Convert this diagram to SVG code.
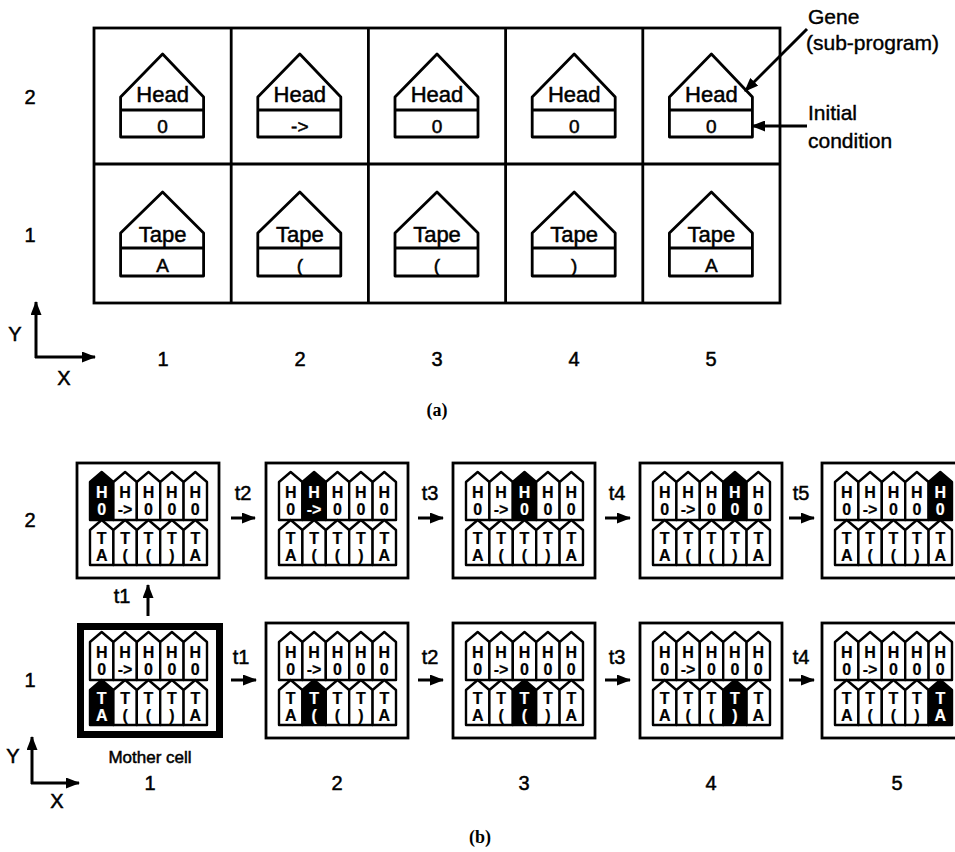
<svg xmlns="http://www.w3.org/2000/svg" width="955" height="852" viewBox="0 0 955 852">
<style>
.ln{fill:none;stroke:#000;stroke-width:2.8}
.big{fill:#fff;stroke:#000;stroke-width:2.8;stroke-linejoin:round}
.t{font-family:"Liberation Sans",Arial,sans-serif;fill:#000;stroke:#000;stroke-width:0.5;text-anchor:middle}
.lab{font-size:20px}
.g{font-size:22px}
.v{font-size:19px}
.m{font-size:16px;font-weight:bold;stroke-width:0.2}
.w{fill:#fff;stroke:#000;stroke-width:2.4;stroke-linejoin:round}
.k{fill:#000;stroke:#000;stroke-width:2.4;stroke-linejoin:round}
.wt{fill:#fff;stroke:#fff}
.cellbox{fill:#fff;stroke:#000;stroke-width:2.8}
.mother{fill:#fff;stroke:#000;stroke-width:7}
.cap{font-family:"Liberation Serif","Times New Roman",serif;font-weight:bold;font-size:18px;text-anchor:middle}
.ann{font-family:"Liberation Sans",Arial,sans-serif;font-size:21px;fill:#000;stroke:#000;stroke-width:0.4}
</style>
<defs>
<marker id="ah" viewBox="0 0 14 11" refX="13" refY="5.5" markerWidth="14" markerHeight="11" markerUnits="userSpaceOnUse" orient="auto">
<path d="M0,0 L14,5.5 L0,11 Z" fill="#000"/>
</marker>
<path id="hh" d="M0,57 V19 L11.7,9 L23.4,19 V57 Z"/>
<path id="th" d="M0,102 V67 L11.7,57 L23.4,67 V102 Z"/>
</defs>

<!-- ===== Part (a) ===== -->
<g id="grid-a">
<rect x="94" y="28" width="686" height="275" class="ln"/>
<line x1="94" y1="164" x2="780" y2="164" class="ln"/>
<line x1="231.2" y1="28" x2="231.2" y2="303" class="ln"/>
<line x1="368.4" y1="28" x2="368.4" y2="303" class="ln"/>
<line x1="505.6" y1="28" x2="505.6" y2="303" class="ln"/>
<line x1="642.8" y1="28" x2="642.8" y2="303" class="ln"/>
</g>

<g id="a-head1" transform="translate(162.6,0)">
<path class="big" d="M-42,137 V97 L0,54 L41,97 V137 Z"/><line class="ln" x1="-42" y1="110" x2="41" y2="110"/>
<text class="t g" x="0" y="102">Head</text><text class="t v" x="0" y="133">0</text></g>
<g id="a-head2" transform="translate(299.8,0)">
<path class="big" d="M-42,137 V97 L0,54 L41,97 V137 Z"/><line class="ln" x1="-42" y1="110" x2="41" y2="110"/>
<text class="t g" x="0" y="102">Head</text><text class="t v" x="0" y="133">-&gt;</text></g>
<g id="a-head3" transform="translate(437,0)">
<path class="big" d="M-42,137 V97 L0,54 L41,97 V137 Z"/><line class="ln" x1="-42" y1="110" x2="41" y2="110"/>
<text class="t g" x="0" y="102">Head</text><text class="t v" x="0" y="133">0</text></g>
<g id="a-head4" transform="translate(574.2,0)">
<path class="big" d="M-42,137 V97 L0,54 L41,97 V137 Z"/><line class="ln" x1="-42" y1="110" x2="41" y2="110"/>
<text class="t g" x="0" y="102">Head</text><text class="t v" x="0" y="133">0</text></g>
<g id="a-head5" transform="translate(711.4,0)">
<path class="big" d="M-42,137 V97 L0,54 L41,97 V137 Z"/><line class="ln" x1="-42" y1="110" x2="41" y2="110"/>
<text class="t g" x="0" y="102">Head</text><text class="t v" x="0" y="133">0</text></g>

<g id="a-tape1" transform="translate(162.6,0)">
<path class="big" d="M-42,276 V233 L0,192 L41,233 V276 Z"/><line class="ln" x1="-42" y1="248" x2="41" y2="248"/>
<text class="t g" x="0" y="242">Tape</text><text class="t v" x="0" y="272">A</text></g>
<g id="a-tape2" transform="translate(299.8,0)">
<path class="big" d="M-42,276 V233 L0,192 L41,233 V276 Z"/><line class="ln" x1="-42" y1="248" x2="41" y2="248"/>
<text class="t g" x="0" y="242">Tape</text><text class="t v" x="0" y="272">(</text></g>
<g id="a-tape3" transform="translate(437,0)">
<path class="big" d="M-42,276 V233 L0,192 L41,233 V276 Z"/><line class="ln" x1="-42" y1="248" x2="41" y2="248"/>
<text class="t g" x="0" y="242">Tape</text><text class="t v" x="0" y="272">(</text></g>
<g id="a-tape4" transform="translate(574.2,0)">
<path class="big" d="M-42,276 V233 L0,192 L41,233 V276 Z"/><line class="ln" x1="-42" y1="248" x2="41" y2="248"/>
<text class="t g" x="0" y="242">Tape</text><text class="t v" x="0" y="272">)</text></g>
<g id="a-tape5" transform="translate(711.4,0)">
<path class="big" d="M-42,276 V233 L0,192 L41,233 V276 Z"/><line class="ln" x1="-42" y1="248" x2="41" y2="248"/>
<text class="t g" x="0" y="242">Tape</text><text class="t v" x="0" y="272">A</text></g>

<g id="a-labels">
<text class="t lab" x="30" y="104">2</text>
<text class="t lab" x="30" y="242">1</text>
<text class="t lab" x="15" y="341">Y</text>
<text class="t lab" x="64" y="385">X</text>
<text class="t lab" x="163" y="366">1</text>
<text class="t lab" x="300" y="366">2</text>
<text class="t lab" x="437" y="366">3</text>
<text class="t lab" x="574" y="366">4</text>
<text class="t lab" x="711" y="366">5</text>
<text class="ann" x="808" y="24">Gene</text>
<text class="ann" x="806" y="50">(sub-program)</text>
<text class="ann" x="808" y="120">Initial</text>
<text class="ann" x="808" y="148">condition</text>
<text class="cap" x="437" y="416">(a)</text>
</g>

<!-- ===== Part (b) ===== -->
<g id="b-cell-2-1" transform="translate(77,463)">
<rect class="cellbox" x="0" y="0" width="142" height="115"/>
<use href="#hh" class="k" x="13"/><use href="#hh" class="w" x="36.4"/><use href="#hh" class="w" x="59.8"/><use href="#hh" class="w" x="83.2"/><use href="#hh" class="w" x="106.6"/>
<use href="#th" class="w" x="13"/><use href="#th" class="w" x="36.4"/><use href="#th" class="w" x="59.8"/><use href="#th" class="w" x="83.2"/><use href="#th" class="w" x="106.6"/>
<g class="t m"><text class="wt" x="24.7" y="35">H</text><text class="wt" x="24.7" y="52">0</text><text x="48.1" y="35">H</text><text x="48.1" y="52">-&gt;</text><text x="71.5" y="35">H</text><text x="71.5" y="52">0</text><text x="94.9" y="35">H</text><text x="94.9" y="52">0</text><text x="118.3" y="35">H</text><text x="118.3" y="52">0</text>
<text x="24.7" y="81">T</text><text x="24.7" y="98">A</text><text x="48.1" y="81">T</text><text x="48.1" y="98">(</text><text x="71.5" y="81">T</text><text x="71.5" y="98">(</text><text x="94.9" y="81">T</text><text x="94.9" y="98">)</text><text x="118.3" y="81">T</text><text x="118.3" y="98">A</text></g>
</g>

<g id="b-cell-2-2" transform="translate(266,463)">
<rect class="cellbox" x="0" y="0" width="142" height="115"/>
<use href="#hh" class="w" x="13"/><use href="#hh" class="k" x="36.4"/><use href="#hh" class="w" x="59.8"/><use href="#hh" class="w" x="83.2"/><use href="#hh" class="w" x="106.6"/>
<use href="#th" class="w" x="13"/><use href="#th" class="w" x="36.4"/><use href="#th" class="w" x="59.8"/><use href="#th" class="w" x="83.2"/><use href="#th" class="w" x="106.6"/>
<g class="t m"><text x="24.7" y="35">H</text><text x="24.7" y="52">0</text><text class="wt" x="48.1" y="35">H</text><text class="wt" x="48.1" y="52">-&gt;</text><text x="71.5" y="35">H</text><text x="71.5" y="52">0</text><text x="94.9" y="35">H</text><text x="94.9" y="52">0</text><text x="118.3" y="35">H</text><text x="118.3" y="52">0</text>
<text x="24.7" y="81">T</text><text x="24.7" y="98">A</text><text x="48.1" y="81">T</text><text x="48.1" y="98">(</text><text x="71.5" y="81">T</text><text x="71.5" y="98">(</text><text x="94.9" y="81">T</text><text x="94.9" y="98">)</text><text x="118.3" y="81">T</text><text x="118.3" y="98">A</text></g>
</g>

<g id="b-cell-2-3" transform="translate(453,463)">
<rect class="cellbox" x="0" y="0" width="142" height="115"/>
<use href="#hh" class="w" x="13"/><use href="#hh" class="w" x="36.4"/><use href="#hh" class="k" x="59.8"/><use href="#hh" class="w" x="83.2"/><use href="#hh" class="w" x="106.6"/>
<use href="#th" class="w" x="13"/><use href="#th" class="w" x="36.4"/><use href="#th" class="w" x="59.8"/><use href="#th" class="w" x="83.2"/><use href="#th" class="w" x="106.6"/>
<g class="t m"><text x="24.7" y="35">H</text><text x="24.7" y="52">0</text><text x="48.1" y="35">H</text><text x="48.1" y="52">-&gt;</text><text class="wt" x="71.5" y="35">H</text><text class="wt" x="71.5" y="52">0</text><text x="94.9" y="35">H</text><text x="94.9" y="52">0</text><text x="118.3" y="35">H</text><text x="118.3" y="52">0</text>
<text x="24.7" y="81">T</text><text x="24.7" y="98">A</text><text x="48.1" y="81">T</text><text x="48.1" y="98">(</text><text x="71.5" y="81">T</text><text x="71.5" y="98">(</text><text x="94.9" y="81">T</text><text x="94.9" y="98">)</text><text x="118.3" y="81">T</text><text x="118.3" y="98">A</text></g>
</g>

<g id="b-cell-2-4" transform="translate(640,463)">
<rect class="cellbox" x="0" y="0" width="142" height="115"/>
<use href="#hh" class="w" x="13"/><use href="#hh" class="w" x="36.4"/><use href="#hh" class="w" x="59.8"/><use href="#hh" class="k" x="83.2"/><use href="#hh" class="w" x="106.6"/>
<use href="#th" class="w" x="13"/><use href="#th" class="w" x="36.4"/><use href="#th" class="w" x="59.8"/><use href="#th" class="w" x="83.2"/><use href="#th" class="w" x="106.6"/>
<g class="t m"><text x="24.7" y="35">H</text><text x="24.7" y="52">0</text><text x="48.1" y="35">H</text><text x="48.1" y="52">-&gt;</text><text x="71.5" y="35">H</text><text x="71.5" y="52">0</text><text class="wt" x="94.9" y="35">H</text><text class="wt" x="94.9" y="52">0</text><text x="118.3" y="35">H</text><text x="118.3" y="52">0</text>
<text x="24.7" y="81">T</text><text x="24.7" y="98">A</text><text x="48.1" y="81">T</text><text x="48.1" y="98">(</text><text x="71.5" y="81">T</text><text x="71.5" y="98">(</text><text x="94.9" y="81">T</text><text x="94.9" y="98">)</text><text x="118.3" y="81">T</text><text x="118.3" y="98">A</text></g>
</g>

<g id="b-cell-2-5" transform="translate(822,463)">
<rect class="cellbox" x="0" y="0" width="142" height="115"/>
<use href="#hh" class="w" x="13"/><use href="#hh" class="w" x="36.4"/><use href="#hh" class="w" x="59.8"/><use href="#hh" class="w" x="83.2"/><use href="#hh" class="k" x="106.6"/>
<use href="#th" class="w" x="13"/><use href="#th" class="w" x="36.4"/><use href="#th" class="w" x="59.8"/><use href="#th" class="w" x="83.2"/><use href="#th" class="w" x="106.6"/>
<g class="t m"><text x="24.7" y="35">H</text><text x="24.7" y="52">0</text><text x="48.1" y="35">H</text><text x="48.1" y="52">-&gt;</text><text x="71.5" y="35">H</text><text x="71.5" y="52">0</text><text x="94.9" y="35">H</text><text x="94.9" y="52">0</text><text class="wt" x="118.3" y="35">H</text><text class="wt" x="118.3" y="52">0</text>
<text x="24.7" y="81">T</text><text x="24.7" y="98">A</text><text x="48.1" y="81">T</text><text x="48.1" y="98">(</text><text x="71.5" y="81">T</text><text x="71.5" y="98">(</text><text x="94.9" y="81">T</text><text x="94.9" y="98">)</text><text x="118.3" y="81">T</text><text x="118.3" y="98">A</text></g>
</g>

<g id="b-mother-cell" transform="translate(77,623)">
<rect class="mother" x="3.5" y="3.5" width="139" height="108"/>
<use href="#hh" class="w" x="13"/><use href="#hh" class="w" x="36.4"/><use href="#hh" class="w" x="59.8"/><use href="#hh" class="w" x="83.2"/><use href="#hh" class="w" x="106.6"/>
<use href="#th" class="k" x="13"/><use href="#th" class="w" x="36.4"/><use href="#th" class="w" x="59.8"/><use href="#th" class="w" x="83.2"/><use href="#th" class="w" x="106.6"/>
<g class="t m"><text x="24.7" y="35">H</text><text x="24.7" y="52">0</text><text x="48.1" y="35">H</text><text x="48.1" y="52">-&gt;</text><text x="71.5" y="35">H</text><text x="71.5" y="52">0</text><text x="94.9" y="35">H</text><text x="94.9" y="52">0</text><text x="118.3" y="35">H</text><text x="118.3" y="52">0</text>
<text class="wt" x="24.7" y="81">T</text><text class="wt" x="24.7" y="98">A</text><text x="48.1" y="81">T</text><text x="48.1" y="98">(</text><text x="71.5" y="81">T</text><text x="71.5" y="98">(</text><text x="94.9" y="81">T</text><text x="94.9" y="98">)</text><text x="118.3" y="81">T</text><text x="118.3" y="98">A</text></g>
</g>

<g id="b-cell-1-2" transform="translate(266,623)">
<rect class="cellbox" x="0" y="0" width="142" height="115"/>
<use href="#hh" class="w" x="13"/><use href="#hh" class="w" x="36.4"/><use href="#hh" class="w" x="59.8"/><use href="#hh" class="w" x="83.2"/><use href="#hh" class="w" x="106.6"/>
<use href="#th" class="w" x="13"/><use href="#th" class="k" x="36.4"/><use href="#th" class="w" x="59.8"/><use href="#th" class="w" x="83.2"/><use href="#th" class="w" x="106.6"/>
<g class="t m"><text x="24.7" y="35">H</text><text x="24.7" y="52">0</text><text x="48.1" y="35">H</text><text x="48.1" y="52">-&gt;</text><text x="71.5" y="35">H</text><text x="71.5" y="52">0</text><text x="94.9" y="35">H</text><text x="94.9" y="52">0</text><text x="118.3" y="35">H</text><text x="118.3" y="52">0</text>
<text x="24.7" y="81">T</text><text x="24.7" y="98">A</text><text class="wt" x="48.1" y="81">T</text><text class="wt" x="48.1" y="98">(</text><text x="71.5" y="81">T</text><text x="71.5" y="98">(</text><text x="94.9" y="81">T</text><text x="94.9" y="98">)</text><text x="118.3" y="81">T</text><text x="118.3" y="98">A</text></g>
</g>

<g id="b-cell-1-3" transform="translate(453,623)">
<rect class="cellbox" x="0" y="0" width="142" height="115"/>
<use href="#hh" class="w" x="13"/><use href="#hh" class="w" x="36.4"/><use href="#hh" class="w" x="59.8"/><use href="#hh" class="w" x="83.2"/><use href="#hh" class="w" x="106.6"/>
<use href="#th" class="w" x="13"/><use href="#th" class="w" x="36.4"/><use href="#th" class="k" x="59.8"/><use href="#th" class="w" x="83.2"/><use href="#th" class="w" x="106.6"/>
<g class="t m"><text x="24.7" y="35">H</text><text x="24.7" y="52">0</text><text x="48.1" y="35">H</text><text x="48.1" y="52">-&gt;</text><text x="71.5" y="35">H</text><text x="71.5" y="52">0</text><text x="94.9" y="35">H</text><text x="94.9" y="52">0</text><text x="118.3" y="35">H</text><text x="118.3" y="52">0</text>
<text x="24.7" y="81">T</text><text x="24.7" y="98">A</text><text x="48.1" y="81">T</text><text x="48.1" y="98">(</text><text class="wt" x="71.5" y="81">T</text><text class="wt" x="71.5" y="98">(</text><text x="94.9" y="81">T</text><text x="94.9" y="98">)</text><text x="118.3" y="81">T</text><text x="118.3" y="98">A</text></g>
</g>

<g id="b-cell-1-4" transform="translate(640,623)">
<rect class="cellbox" x="0" y="0" width="142" height="115"/>
<use href="#hh" class="w" x="13"/><use href="#hh" class="w" x="36.4"/><use href="#hh" class="w" x="59.8"/><use href="#hh" class="w" x="83.2"/><use href="#hh" class="w" x="106.6"/>
<use href="#th" class="w" x="13"/><use href="#th" class="w" x="36.4"/><use href="#th" class="w" x="59.8"/><use href="#th" class="k" x="83.2"/><use href="#th" class="w" x="106.6"/>
<g class="t m"><text x="24.7" y="35">H</text><text x="24.7" y="52">0</text><text x="48.1" y="35">H</text><text x="48.1" y="52">-&gt;</text><text x="71.5" y="35">H</text><text x="71.5" y="52">0</text><text x="94.9" y="35">H</text><text x="94.9" y="52">0</text><text x="118.3" y="35">H</text><text x="118.3" y="52">0</text>
<text x="24.7" y="81">T</text><text x="24.7" y="98">A</text><text x="48.1" y="81">T</text><text x="48.1" y="98">(</text><text x="71.5" y="81">T</text><text x="71.5" y="98">(</text><text class="wt" x="94.9" y="81">T</text><text class="wt" x="94.9" y="98">)</text><text x="118.3" y="81">T</text><text x="118.3" y="98">A</text></g>
</g>

<g id="b-cell-1-5" transform="translate(822,623)">
<rect class="cellbox" x="0" y="0" width="142" height="115"/>
<use href="#hh" class="w" x="13"/><use href="#hh" class="w" x="36.4"/><use href="#hh" class="w" x="59.8"/><use href="#hh" class="w" x="83.2"/><use href="#hh" class="w" x="106.6"/>
<use href="#th" class="w" x="13"/><use href="#th" class="w" x="36.4"/><use href="#th" class="w" x="59.8"/><use href="#th" class="w" x="83.2"/><use href="#th" class="k" x="106.6"/>
<g class="t m"><text x="24.7" y="35">H</text><text x="24.7" y="52">0</text><text x="48.1" y="35">H</text><text x="48.1" y="52">-&gt;</text><text x="71.5" y="35">H</text><text x="71.5" y="52">0</text><text x="94.9" y="35">H</text><text x="94.9" y="52">0</text><text x="118.3" y="35">H</text><text x="118.3" y="52">0</text>
<text x="24.7" y="81">T</text><text x="24.7" y="98">A</text><text x="48.1" y="81">T</text><text x="48.1" y="98">(</text><text x="71.5" y="81">T</text><text x="71.5" y="98">(</text><text x="94.9" y="81">T</text><text x="94.9" y="98">)</text><text class="wt" x="118.3" y="81">T</text><text class="wt" x="118.3" y="98">A</text></g>
</g>

<g id="b-labels">
<text class="t lab" x="30" y="527">2</text>
<text class="t lab" x="30" y="687">1</text>
<text class="t" style="font-size:17px" x="150" y="763">Mother cell</text>
<text class="t lab" x="13" y="763">Y</text>
<text class="t lab" x="57" y="808">X</text>
<text class="t lab" x="150" y="790">1</text>
<text class="t lab" x="337" y="790">2</text>
<text class="t lab" x="524" y="790">3</text>
<text class="t lab" x="711" y="790">4</text>
<text class="t lab" x="897" y="790">5</text>
<text class="t lab" x="122" y="603">t1</text>
<text class="t lab" x="243" y="500">t2</text>
<text class="t lab" x="430" y="500">t3</text>
<text class="t lab" x="617" y="500">t4</text>
<text class="t lab" x="801" y="500">t5</text>
<text class="t lab" x="241" y="664">t1</text>
<text class="t lab" x="430" y="664">t2</text>
<text class="t lab" x="617" y="664">t3</text>
<text class="t lab" x="801" y="664">t4</text>
<text class="cap" x="480" y="843">(b)</text>
</g>

<g id="connectors" stroke="#000" stroke-width="3" fill="none">
<path d="M807,29 L745,91" marker-end="url(#ah)"/>
<path d="M807,126 L752,126" marker-end="url(#ah)"/>
<path d="M36,358 V302" marker-end="url(#ah)"/>
<path d="M35,357 H95" marker-end="url(#ah)"/>
<path d="M32,784 V737" marker-end="url(#ah)"/>
<path d="M31,783 H79" marker-end="url(#ah)"/>
<path d="M148,616 V585" marker-end="url(#ah)"/>
<path d="M231,518 H255" marker-end="url(#ah)"/>
<path d="M418,518 H443" marker-end="url(#ah)"/>
<path d="M605,518 H630" marker-end="url(#ah)"/>
<path d="M789,518 H814" marker-end="url(#ah)"/>
<path d="M231,680 H256" marker-end="url(#ah)"/>
<path d="M418,680 H443" marker-end="url(#ah)"/>
<path d="M605,680 H630" marker-end="url(#ah)"/>
<path d="M789,680 H814" marker-end="url(#ah)"/>
</g>
</svg>
